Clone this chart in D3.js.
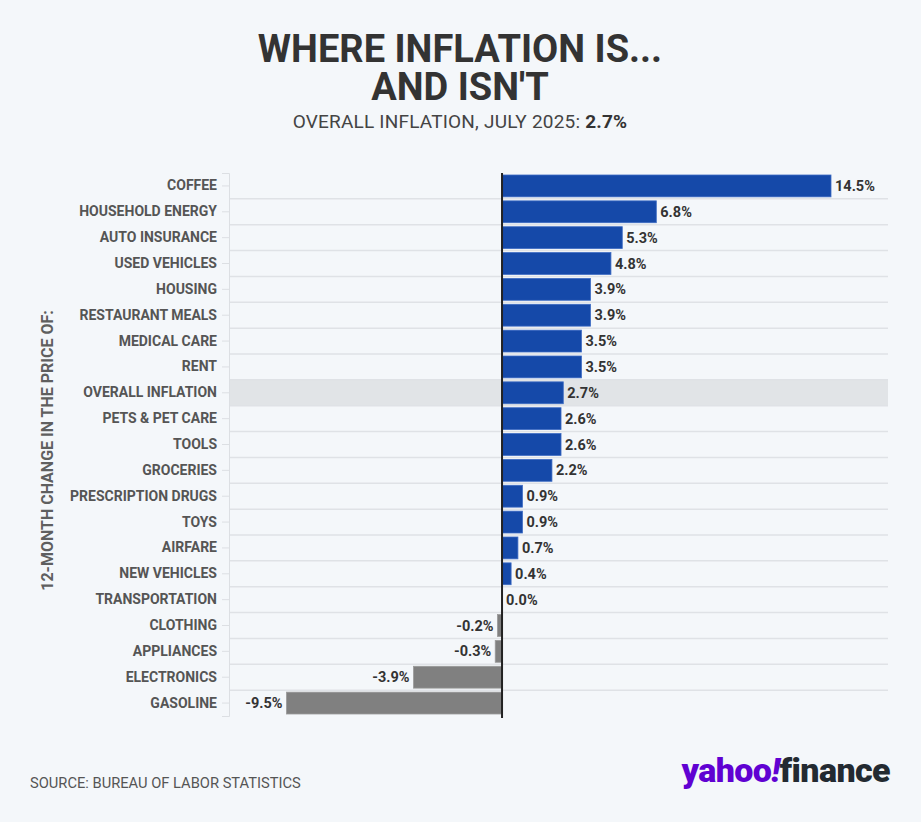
<!DOCTYPE html>
<html>
<head>
<meta charset="utf-8">
<script src="https://cdn.jsdelivr.net/npm/d3@7"></script>
<style>
  html, body { margin: 0; padding: 0; background: #f4f7fa; }
  svg { display: block; font-family: Roboto, "Noto Sans", sans-serif; }
</style>
</head>
<body>
<div id="chart"></div>
<script>
var categories = [
  "COFFEE", "HOUSEHOLD ENERGY", "AUTO INSURANCE", "USED VEHICLES", "HOUSING",
  "RESTAURANT MEALS", "MEDICAL CARE", "RENT", "OVERALL INFLATION", "PETS & PET CARE",
  "TOOLS", "GROCERIES", "PRESCRIPTION DRUGS", "TOYS", "AIRFARE", "NEW VEHICLES",
  "TRANSPORTATION", "CLOTHING", "APPLIANCES", "ELECTRONICS", "GASOLINE"
];
var values = [
  14.5, 6.8, 5.3, 4.8, 3.9, 3.9, 3.5, 3.5, 2.7, 2.6,
  2.6, 2.2, 0.9, 0.9, 0.7, 0.4, 0.0, -0.2, -0.3, -3.9, -9.5
];
var highlight = "OVERALL INFLATION";

var width = 921,
  height = 822,
  plotLeft = 229,
  plotRight = 888,
  plotTop = 173,
  plotBottom = 716;

var data = categories.map(function(c, i) {
  return {label: c, value: values[i]};
});

var svg = d3.select("#chart")
  .append("svg")
  .attr("width", width)
  .attr("height", height);

svg.append("rect")
  .attr("width", width)
  .attr("height", height)
  .attr("fill", "#f4f7fa");

// scales: zero sits at ~502px, 14.5% reaches ~831px
var x = d3.scaleLinear()
  .domain([-9.5, 14.5])
  .range([286.5, 831]);

var y = d3.scaleBand()
  .domain(categories)
  .range([plotTop, plotBottom])
  .paddingInner(0)
  .paddingOuter(0);

// title block
var title = svg.append("text")
  .attr("text-anchor", "middle")
  .attr("font-size", 38)
  .attr("font-weight", 700)
  .attr("fill", "#333");
title.append("tspan").attr("x", 460).attr("y", 62).text("WHERE INFLATION IS...");
title.append("tspan").attr("x", 460).attr("y", 100).text("AND ISN'T");

var sub = svg.append("text")
  .attr("x", 460)
  .attr("y", 128)
  .attr("text-anchor", "middle")
  .attr("font-size", 19)
  .attr("letter-spacing", 0.2)
  .attr("fill", "#444");
sub.append("tspan").text("OVERALL INFLATION, JULY 2025: ");
sub.append("tspan").attr("font-weight", 700).attr("fill", "#333").text("2.7%");

// highlighted row
svg.append("rect")
  .attr("x", plotLeft)
  .attr("y", y(highlight))
  .attr("width", plotRight - plotLeft)
  .attr("height", y.bandwidth())
  .attr("fill", "#e1e4e7");

// row separators
svg.append("g")
  .selectAll("line")
  .data(categories.slice(1))
  .enter()
  .append("line")
  .attr("x1", plotLeft)
  .attr("x2", plotRight)
  .attr("y1", function(d) { return y(d); })
  .attr("y2", function(d) { return y(d); })
  .attr("stroke", "#dfe2e6")
  .attr("stroke-width", 1.5);

// category axis
var yAxis = svg.append("g")
  .attr("transform", "translate(" + plotLeft + ",0)")
  .call(d3.axisLeft(y).tickSize(7).tickPadding(5));
yAxis.select(".domain").attr("stroke", "#dcdfe3");
yAxis.selectAll(".tick line").attr("stroke", "#dcdfe3");
yAxis.selectAll(".tick text")
  .attr("font-family", "Roboto, sans-serif")
  .attr("font-size", 14)
  .attr("font-weight", 700)
  .attr("fill", "#555");

svg.append("text")
  .attr("transform", "translate(53," + ((plotTop + plotBottom) / 2 + 6) + ") rotate(-90)")
  .attr("text-anchor", "middle")
  .attr("font-size", 16)
  .attr("font-weight", 700)
  .attr("fill", "#5f5f5f")
  .text("12-MONTH CHANGE IN THE PRICE OF:");

// bars
svg.append("g")
  .selectAll("rect")
  .data(data)
  .enter()
  .append("rect")
  .attr("x", function(d) { return Math.min(x(0), x(d.value)); })
  .attr("y", function(d) { return y(d.label) + 2; })
  .attr("width", function(d) { return Math.abs(x(d.value) - x(0)); })
  .attr("height", y.bandwidth() - 4)
  .attr("fill", function(d) { return d.value < 0 ? "#808080" : "#1549a9"; })
  .attr("stroke", function(d) { return d.value < 0 ? "#9a9a9a" : "#3e6cc4"; })
  .attr("stroke-width", 0.8);

// value labels
svg.append("g")
  .selectAll("text")
  .data(data)
  .enter()
  .append("text")
  .attr("x", function(d) { return d.value < 0 ? x(d.value) - 4 : x(d.value) + 4; })
  .attr("y", function(d) { return y(d.label) + y.bandwidth() / 2 + 5; })
  .attr("text-anchor", function(d) { return d.value < 0 ? "end" : "start"; })
  .attr("font-size", 14.5)
  .attr("font-weight", 700)
  .attr("fill", "#333")
  .text(function(d) { return d.value.toFixed(1) + "%"; });

// zero line
svg.append("line")
  .attr("x1", x(0))
  .attr("x2", x(0))
  .attr("y1", plotTop)
  .attr("y2", plotBottom + 2)
  .attr("stroke", "#222")
  .attr("stroke-width", 2);

// footer
svg.append("text")
  .attr("x", 30)
  .attr("y", 788)
  .attr("font-size", 14.7)
  .attr("fill", "#555")
  .text("SOURCE: BUREAU OF LABOR STATISTICS");

var logo = svg.append("text")
  .attr("x", 890)
  .attr("y", 782)
  .attr("text-anchor", "end")
  .attr("font-size", 34)
  .attr("font-weight", 900)
  .attr("letter-spacing", -0.6);
logo.append("tspan").attr("fill", "#6001d2").text("yahoo");
logo.append("tspan").attr("fill", "#6001d2").attr("font-style", "italic").text("!");
logo.append("tspan").attr("fill", "#232a31").text("finance");
</script>
</body>
</html>
